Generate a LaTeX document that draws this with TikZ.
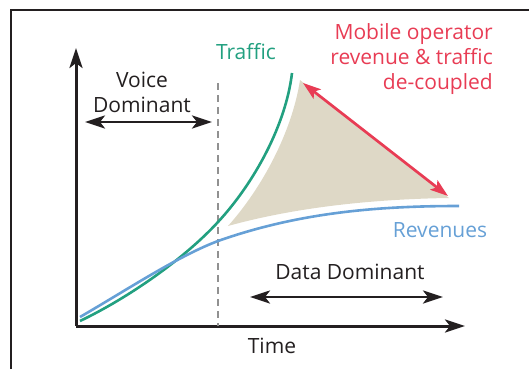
\documentclass[tikz,border=0pt]{standalone}
\usepackage{fontspec}
\setmainfont{Open Sans}
\usepackage{xcolor}
\definecolor{trgreen}{RGB}{34,160,128}
\definecolor{rvblue}{RGB}{102,160,214}
\definecolor{dcred}{RGB}{232,60,84}
\definecolor{gapbeige}{RGB}{222,216,198}
\definecolor{axgray}{RGB}{145,145,145}
\definecolor{inkdark}{RGB}{35,31,32}
\usetikzlibrary{arrows.meta, positioning}

\begin{document}
\begin{tikzpicture}[x=1pt, y=-1pt,
    lbl/.style={font=\fontsize{21}{25}\selectfont, inner sep=0pt, align=center},
    axis/.style={line width=3pt, inkdark, -{Stealth[length=20pt, width=13pt, inset=5pt]}},
    span/.style={line width=2.7pt, inkdark, {Stealth[length=20pt, width=13pt, inset=5pt]}-{Stealth[length=20pt, width=13pt, inset=5pt]}}]
  \useasboundingbox (0,0) rectangle (529,369);

  % Frame
  \draw[line width=2.8pt, inkdark] (11,369) -- (11,10) -- (529,10);

  % Axes
  \coordinate (origin) at (76,326);
  \coordinate (ytip) at (76,48);
  \coordinate (xtip) at (465,326);
  \draw[axis] (origin) -- (ytip);
  \draw[axis] (origin) -- (xtip);
  \node[lbl, inkdark] (timelbl) at (272,346) {Time};

  % Voice / data split
  \coordinate (splittop) at (218,83);
  \coordinate (splitbot) at (218,326);
  \draw[line width=2.8pt, axgray, dash pattern=on 7pt off 5pt] (splittop) -- (splitbot);

  % Gap between traffic and revenues
  \fill[gapbeige] (228,226) .. controls (262,188) and (292,132) .. (300,80)
    -- (449,198) .. controls (380,199) and (300,206) .. (228,226) -- cycle;

  % Traffic curve
  \draw[line width=2.6pt, trgreen] (80,321) .. controls (130,297) and (185,258) .. (218,222)
    .. controls (255,182) and (286,124) .. (292,73);
  % Revenue curve
  \draw[line width=2.6pt, rvblue] (80,317) .. controls (125,291) and (178,256) .. (218,241)
    .. controls (300,212) and (380,206) .. (459,206);

  % Labels
  \node[lbl, trgreen] (trafficlbl) at (246,52) {Traffic};
  \node[lbl, rvblue] (revlbl) at (440,230) {Revenues};
  \node[lbl, inkdark] (voicelbl) at (142,92) {Voice\\Dominant};
  \node[lbl, inkdark] (datalbl) at (350,272) {Data Dominant};
  \node[lbl, dcred, align=right, anchor=north east] (decouplelbl) at (493,23)
    {Mobile operator\\revenue \& traffic\\de-coupled};

  % Period arrows
  \coordinate (voiceL) at (85,122);
  \coordinate (voiceR) at (212,122);
  \draw[span] (voiceL) -- (voiceR);
  \coordinate (dataL) at (250,297);
  \coordinate (dataR) at (443,297);
  \draw[span] (dataL) -- (dataR);

  % De-coupling arrow
  \coordinate (gaptop) at (303,83);
  \coordinate (gapright) at (448,196);
  \draw[line width=2.7pt, dcred, {Stealth[length=18pt, width=12pt, inset=4pt]}-{Stealth[length=18pt, width=12pt, inset=4pt]}] (gaptop) -- (gapright);
\end{tikzpicture}
\end{document}
